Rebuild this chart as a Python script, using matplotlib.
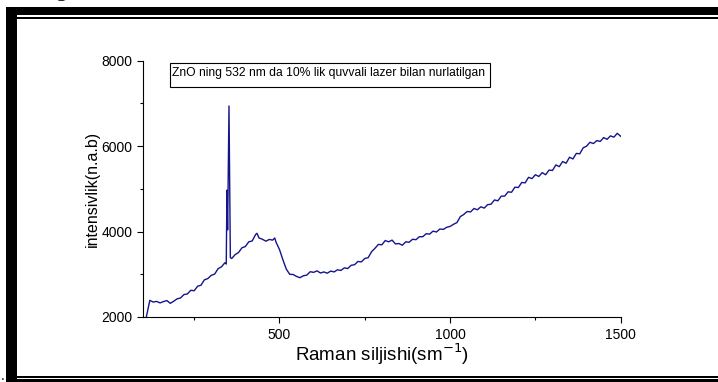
import matplotlib
matplotlib.use("Agg")
import matplotlib.pyplot as plt
from matplotlib.patches import Rectangle
from matplotlib.ticker import MultipleLocator

plt.rcParams["font.family"] = ["Liberation Sans", "DejaVu Sans"]

# Raman spectrum of ZnO, 532 nm excitation at 10% laser power
shift = [110, 120, 130, 140, 150, 160, 170, 180, 190, 200,
         210, 220, 230, 240, 250, 260, 270, 280, 290, 300,
         310, 320, 330, 340, 344, 346, 348, 352, 356, 360,
         370, 380, 390, 400, 410, 420, 430, 434, 440, 450,
         460, 470, 480, 486, 490, 500, 510, 520, 530, 540,
         550, 560, 570, 580, 590, 600, 610, 620, 630, 640,
         650, 660, 670, 680, 690, 700, 710, 720, 730, 740,
         750, 760, 770, 780, 790, 800, 810, 820, 830, 840,
         850, 860, 870, 880, 890, 900, 910, 920, 930, 940,
         950, 960, 970, 980, 990, 1000, 1010, 1020, 1030, 1040,
         1050, 1060, 1070, 1080, 1090, 1100, 1110, 1120, 1130, 1140,
         1150, 1160, 1170, 1180, 1190, 1200, 1210, 1220, 1230, 1240,
         1250, 1260, 1270, 1280, 1290, 1300, 1310, 1320, 1330, 1340,
         1350, 1360, 1370, 1380, 1390, 1400, 1410, 1420, 1430, 1440,
         1450, 1460, 1470, 1480, 1490, 1500]
intensity = [2010, 2390, 2350, 2365, 2330, 2360, 2385, 2320, 2370, 2425,
             2445, 2525, 2540, 2625, 2615, 2720, 2745, 2870, 2900, 2975,
             3005, 3130, 3175, 3270, 3240, 4970, 4040, 6940, 3390, 3370,
             3460, 3510, 3620, 3650, 3760, 3780, 3930, 3960, 3850, 3820,
             3775, 3815, 3800, 3850, 3750, 3580, 3340, 3120, 3000, 2995,
             2950, 2920, 2965, 2980, 3060, 3045, 3080, 3030, 3055, 3025,
             3075, 3055, 3105, 3090, 3150, 3135, 3210, 3225, 3300, 3290,
             3370, 3390, 3530, 3610, 3700, 3690, 3790, 3760, 3800, 3710,
             3720, 3680, 3760, 3750, 3820, 3810, 3880, 3880, 3950, 3940,
             4010, 3990, 4060, 4050, 4100, 4120, 4170, 4210, 4350, 4400,
             4470, 4460, 4540, 4510, 4580, 4550, 4630, 4640, 4740, 4720,
             4830, 4830, 4930, 4920, 5040, 5030, 5150, 5140, 5270, 5240,
             5330, 5290, 5380, 5330, 5440, 5430, 5560, 5520, 5640, 5600,
             5740, 5700, 5830, 5820, 5960, 6000, 6090, 6060, 6130, 6110,
             6200, 6160, 6240, 6210, 6300, 6230]

x_ticks = [500, 1000, 1500]
y_ticks = [2000, 4000, 6000, 8000]
note = "ZnO ning 532 nm da 10% lik quvvali lazer bilan nurlatilgan"

W, H = 718, 382
fig = plt.figure(figsize=(W / 100, H / 100), dpi=100)
ax = fig.add_axes([143 / W, 1 - 317 / H, (620.7 - 143) / W, (317 - 60.7) / H])

ax.plot(shift, intensity, color="#14148c", linewidth=1.0)
ax.set_xlim(100, 1500)
ax.set_ylim(2000, 8000)
ax.set_xticks(x_ticks)
ax.set_yticks(y_ticks)
ax.xaxis.set_minor_locator(MultipleLocator(250))
ax.yaxis.set_minor_locator(MultipleLocator(1000))
for side in ("top", "right"):
    ax.spines[side].set_visible(False)
for side in ("left", "bottom"):
    ax.spines[side].set_linewidth(0.8)
ax.tick_params(which="major", length=4.3, width=0.8, labelsize=10, pad=3.5)
ax.tick_params(which="minor", length=2.2, width=0.8)
ax.set_xlabel("Raman siljishi(sm$^{-1}$)", fontsize=13.5, labelpad=0)
ax.set_ylabel("intensivlik(n.a.b)", fontsize=11.5, labelpad=1)


def px(x0, y0, w, h):
    # pixel box (top-left origin) -> figure fraction rectangle
    return (x0 / W, 1 - (y0 + h) / H), w / W, h / H


# annotation box
xy, w, h = px(170, 63, 320, 24)
fig.patches.append(Rectangle(xy, w, h, transform=fig.transFigure,
                             facecolor="none", edgecolor="black", linewidth=0.8))
fig.text(172 / W, 1 - 67 / H, note, fontsize=8.7, va="top", ha="left")

# page frame
for box in [(6, 7, 11, 375), (6, 7, 712, 8), (17, 16.8, 701, 1.8),
            (17, 376, 701, 1.8), (6, 379, 712, 3)]:
    xy, w, h = px(*box)
    fig.patches.append(Rectangle(xy, w, h, transform=fig.transFigure,
                                 facecolor="black", edgecolor="none"))
fig.text(1 / W, 1 - 380 / H, ".", fontsize=10, ha="left", va="baseline")
fig.text(56 / W, 1 - (-4) / H, "g", fontsize=16, family="Liberation Serif",
         ha="left", va="baseline")

fig.savefig("out.png", dpi=100)
